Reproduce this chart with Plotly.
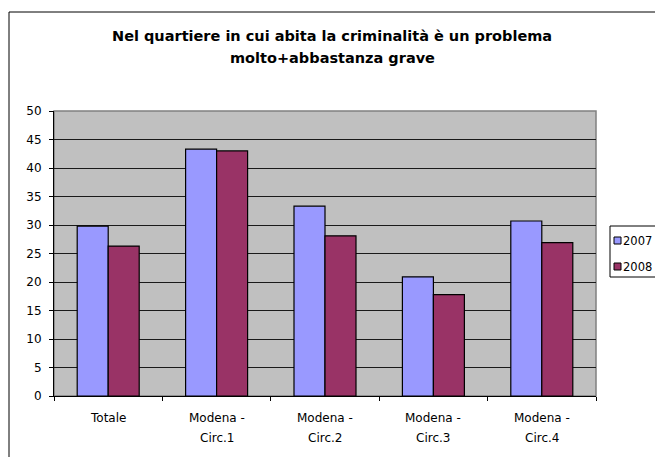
import plotly.graph_objects as go

categories = ["Totale", "Modena - Circ.1", "Modena - Circ.2", "Modena - Circ.3", "Modena - Circ.4"]
label_line1 = ["Totale", "Modena -", "Modena -", "Modena -", "Modena -"]
label_line2 = ["", "Circ.1", "Circ.2", "Circ.3", "Circ.4"]
values_2007 = [29.8, 43.3, 33.3, 20.9, 30.7]
values_2008 = [26.3, 43.0, 28.1, 17.8, 26.9]
series_names = ["2007", "2008"]
series_colors = ["#9999FF", "#993366"]
y_ticks = [0, 5, 10, 15, 20, 25, 30, 35, 40, 45, 50]
title_lines = ["Nel quartiere in cui abita la criminalità è un problema", "molto+abbastanza grave"]

W, H = 663, 457
OFF = 8  # page body margin
# plot area in page pixels
PL, PR, PT, PB = 54, 596, 111, 396
L, R, T, B = PL - OFF, PR - OFF, PT - OFF, PB - OFF

FONT = "DejaVu Sans, Liberation Sans, Arial, sans-serif"
TXT = 12


def px2x(page_x):
    return (page_x - PL) / (PR - PL)


def py2y(page_y):
    return (PB - page_y) / (PB - PT)


fig = go.Figure()
for name, vals, col in zip(series_names, [values_2007, values_2008], series_colors):
    fig.add_bar(x=categories, y=vals, name=name,
                marker=dict(color=col, line=dict(color="#000000", width=1.2)))

annotations = []
# title
for txt, yy in zip(title_lines, [36, 58]):
    annotations.append(dict(text="<b>%s</b>" % txt, xref="paper", yref="paper",
                            x=px2x(332), y=py2y(yy), xanchor="center", yanchor="middle",
                            showarrow=False, font=dict(size=14.5, family=FONT, color="black")))
# category labels
for cat, l1, l2 in zip(categories, label_line1, label_line2):
    annotations.append(dict(text=l1, xref="x", yref="paper", x=cat, y=py2y(418),
                            xanchor="center", yanchor="middle", showarrow=False,
                            font=dict(size=TXT, family=FONT, color="black")))
    if l2:
        annotations.append(dict(text=l2, xref="x", yref="paper", x=cat, y=py2y(438),
                                xanchor="center", yanchor="middle", showarrow=False,
                                font=dict(size=TXT, family=FONT, color="black")))

shapes = [
    # outer chart frame
    dict(type="rect", xref="paper", yref="paper",
         x0=px2x(9), x1=px2x(700), y0=py2y(480), y1=py2y(12),
         line=dict(color="black", width=1), fillcolor="rgba(0,0,0,0)", layer="below"),
    # plot area border (grey)
    dict(type="rect", xref="paper", yref="paper", x0=0, x1=1, y0=0, y1=1,
         line=dict(color="#808080", width=1.5), fillcolor="rgba(0,0,0,0)", layer="below"),
    # legend box
    dict(type="rect", xref="paper", yref="paper",
         x0=px2x(610), x1=px2x(700), y0=py2y(277), y1=py2y(226),
         line=dict(color="black", width=1), fillcolor="white"),
]
for i, (name, col) in enumerate(zip(series_names, series_colors)):
    yc = 240.5 + i * 26
    shapes.append(dict(type="rect", xref="paper", yref="paper",
                       x0=px2x(614), x1=px2x(621), y0=py2y(yc + 3.5), y1=py2y(yc - 3.5),
                       line=dict(color="black", width=1), fillcolor=col))
    annotations.append(dict(text=name, xref="paper", yref="paper", x=px2x(621), y=py2y(yc),
                            xanchor="left", yanchor="middle", showarrow=False,
                            font=dict(size=11.5, family=FONT, color="black")))

fig.update_layout(
    width=W, height=H,
    margin=dict(l=L, r=W - R, t=T, b=H - B, pad=0, autoexpand=False),
    paper_bgcolor="white",
    plot_bgcolor="#C0C0C0",
    font=dict(family=FONT, size=TXT, color="black"),
    barmode="group",
    bargap=0.428,
    bargroupgap=0,
    showlegend=False,
    xaxis=dict(showline=True, linecolor="#000000", linewidth=1, ticks="outside",
               tickson="boundaries", ticklen=4, tickcolor="#000000",
               showgrid=False, showticklabels=False),
    yaxis=dict(range=[0, 50], tickvals=y_ticks, showline=True, linecolor="#000000",
               linewidth=1, ticks="outside", ticklen=4, tickcolor="#000000",
               ticklabelstandoff=5,
               showgrid=True, gridcolor="#1a1a1a", gridwidth=1, zeroline=False,
               tickfont=dict(size=TXT, family=FONT)),
    annotations=annotations,
    shapes=shapes,
)

fig.write_html("out.html")
